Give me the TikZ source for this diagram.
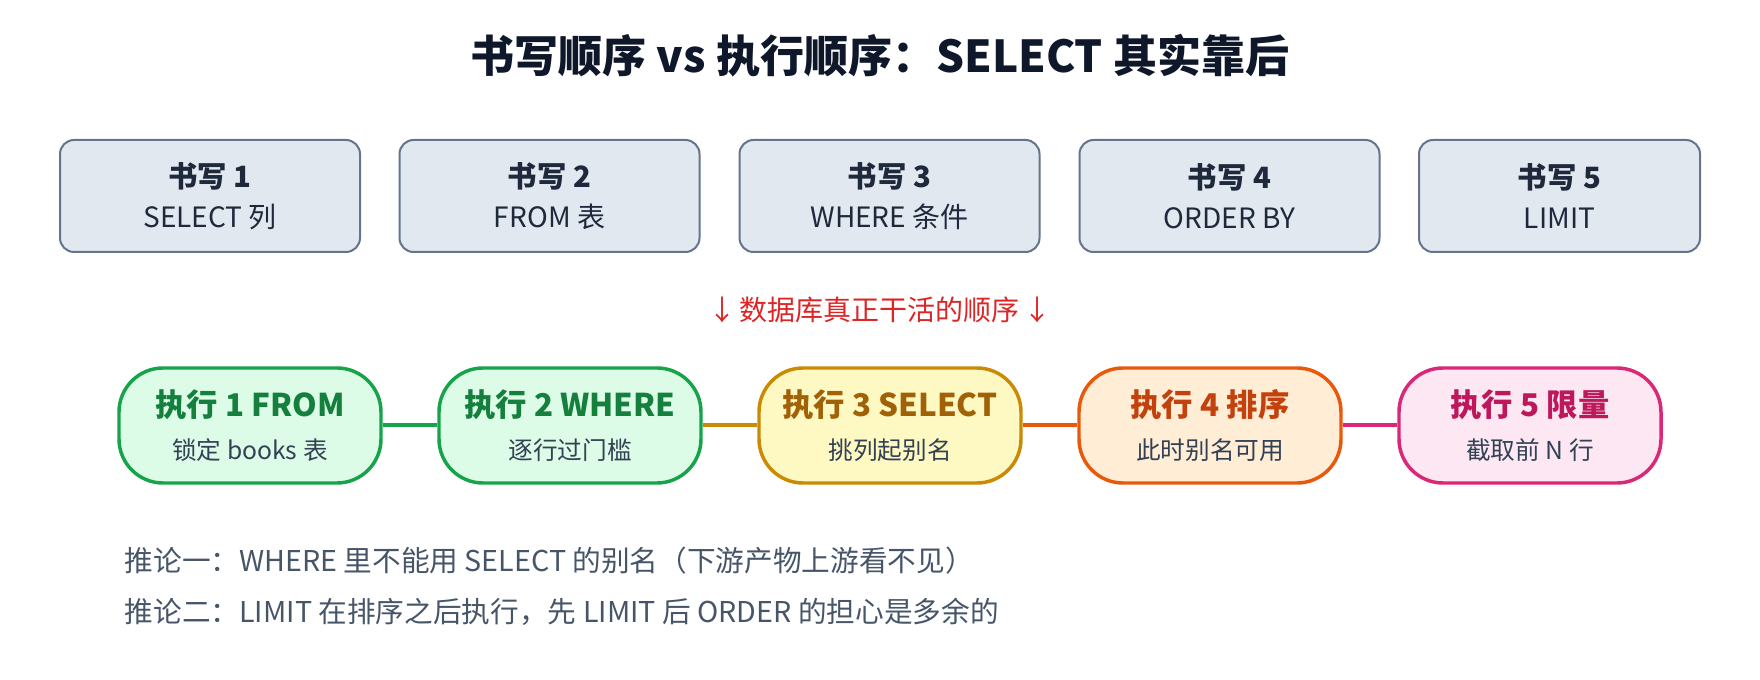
\documentclass[tikz,border=0pt]{standalone}
\usepackage{fontspec}
\setmainfont{Noto Sans CJK SC}
\usepackage{tikz}
\usetikzlibrary{positioning, arrows.meta, calc}

\definecolor{titlecol}{HTML}{0F172A}
\definecolor{slatebg}{HTML}{E2E8F0}
\definecolor{slatebd}{HTML}{64748B}
\definecolor{slatetx}{HTML}{1E293B}
\definecolor{bodytx}{HTML}{334155}
\definecolor{notetx}{HTML}{475569}
\definecolor{redtx}{HTML}{DC2626}
\definecolor{grnbg}{HTML}{DCFCE7}
\definecolor{grnbd}{HTML}{16A34A}
\definecolor{grntx}{HTML}{15803D}
\definecolor{ylwbg}{HTML}{FEF9C3}
\definecolor{ylwbd}{HTML}{CA8A04}
\definecolor{ylwtx}{HTML}{A16207}
\definecolor{orgbg}{HTML}{FFEDD5}
\definecolor{orgbd}{HTML}{EA580C}
\definecolor{orgtx}{HTML}{C2410C}
\definecolor{pnkbg}{HTML}{FCE7F3}
\definecolor{pnkbd}{HTML}{DB2777}
\definecolor{pnktx}{HTML}{BE185D}

\tikzset{
	writebox/.style={draw=slatebd, fill=slatebg, line width=1.5pt, rounded corners=10.5pt,
		minimum height=84pt, align=center, text=slatetx, font=\fontsize{21}{30}\selectfont},
	execpill/.style={line width=2.6pt, rounded corners=33pt, minimum width=196.5pt,
		minimum height=86.25pt, align=center, text=bodytx, font=\fontsize{18.5}{32}\selectfont},
	link/.style={line width=3pt},
}

\newcommand{\writetitle}[1]{{\bfseries\fontsize{22}{30}\selectfont #1}}
\newcommand{\steptitle}[2]{\textcolor{#1}{\bfseries\fontsize{23.5}{32}\selectfont #2}}

\begin{document}
\begin{tikzpicture}[x=0.75pt, y=-0.75pt]
		
		\useasboundingbox (0,0) rectangle (1760,680);
		
		% Title
		\node[text=titlecol, font=\bfseries\fontsize{33}{40}\selectfont] (title) at (880,56) {书写顺序 vs 执行顺序：SELECT 其实靠后};
		
		% Writing order
		\node[writebox, minimum width=225pt] (w1) at (210,196) {\writetitle{书写 1}\\SELECT 列};
		\node[writebox, minimum width=225pt] (w2) at (549.5,196) {\writetitle{书写 2}\\FROM 表};
		\node[writebox, minimum width=225pt] (w3) at (889.5,196) {\writetitle{书写 3}\\WHERE 条件};
		\node[writebox, minimum width=225pt] (w4) at (1229.5,196) {\writetitle{书写 4}\\ORDER BY};
		\node[writebox, minimum width=210.75pt] (w5) at (1559.5,196) {\writetitle{书写 5}\\LIMIT};
		
		\node[text=redtx, font=\fontsize{21}{26}\selectfont] (turn) at (880,310) {↓\hspace{0.12em}数据库真正干活的顺序\hspace{0.12em}↓};
		
		% Execution order
		\node[execpill, draw=grnbd, fill=grnbg] (e1) at (250,425.5) {\steptitle{grntx}{执行 1 FROM}\\锁定 books 表};
		\node[execpill, draw=grnbd, fill=grnbg] (e2) at (570,425.5) {\steptitle{grntx}{执行 2 WHERE}\\逐行过门槛};
		\node[execpill, draw=ylwbd, fill=ylwbg] (e3) at (890,425.5) {\steptitle{ylwtx}{执行 3 SELECT}\\挑列起别名};
		\node[execpill, draw=orgbd, fill=orgbg] (e4) at (1210,425.5) {\steptitle{orgtx}{执行 4 排序}\\此时别名可用};
		\node[execpill, draw=pnkbd, fill=pnkbg] (e5) at (1530,425.5) {\steptitle{pnktx}{执行 5 限量}\\截取前 N 行};
		
		\draw[link, grnbd] (e1) -- (e2);
		\draw[link, ylwbd] (e2) -- (e3);
		\draw[link, orgbd] (e3) -- (e4);
		\draw[link, pnkbd] (e4) -- (e5);
		
		% Notes
		\node[anchor=west, text=notetx, font=\fontsize{21.5}{26}\selectfont] (note1) at (120,561) {推论一：WHERE 里不能用 SELECT 的别名（下游产物上游看不见）};
		\node[anchor=west, text=notetx, font=\fontsize{21.5}{26}\selectfont] (note2) at (120,612) {推论二：LIMIT 在排序之后执行，先 LIMIT 后 ORDER 的担心是多余的};
		
	\end{tikzpicture}
\end{document}
